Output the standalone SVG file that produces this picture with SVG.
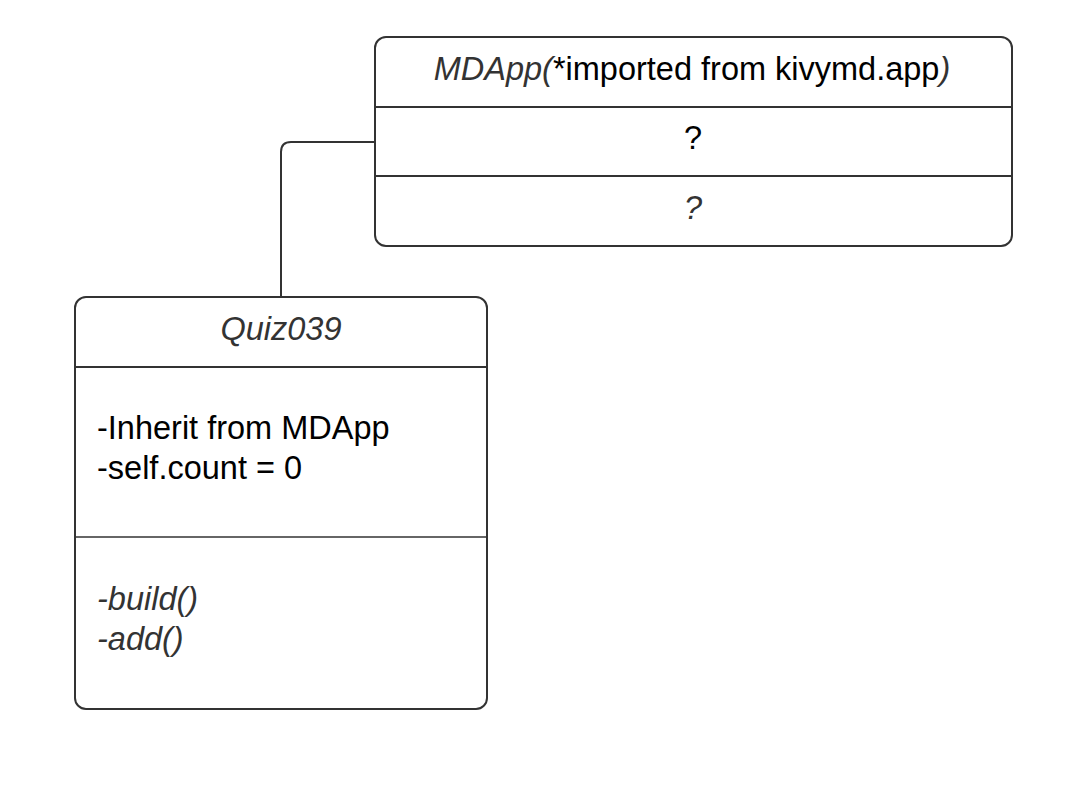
<svg xmlns="http://www.w3.org/2000/svg" width="1080" height="788" viewBox="0 0 1080 788">
<style>
.box{fill:#fff;stroke:#333;stroke-width:2}
.div{stroke:#333;stroke-width:2}
.div1{stroke:#333;stroke-width:1.3}
.t{font-family:"Liberation Sans",Arial,sans-serif;font-size:32.5px;fill:#000}
.i{font-style:italic;fill:#333}
.c{text-anchor:middle}
.conn{fill:none;stroke:#333;stroke-width:2}
</style>
<rect width="1080" height="788" fill="#fff"/>
<g id="connectors">
<path class="conn" d="M375 142 H291 Q281 142 281 152 V297"/>
</g>
<g id="mdapp">
<rect class="box" x="375" y="37" width="637" height="209" rx="11"/>
<line class="div" x1="375" y1="107" x2="1012" y2="107"/>
<line class="div" x1="375" y1="176" x2="1012" y2="176"/>
<text class="t c" x="692" y="80"><tspan class="i">MDApp(</tspan>*imported from kivymd.app<tspan class="i">)</tspan></text>
<text class="t c" x="693" y="149">?</text>
<text class="t c i" x="693" y="219">?</text>
</g>
<g id="quiz039">
<rect class="box" x="75" y="297" width="412" height="412" rx="11"/>
<line class="div" x1="75" y1="367" x2="487" y2="367"/>
<line class="div1" x1="75" y1="537" x2="487" y2="537"/>
<text class="t c i" x="281" y="340">Quiz039</text>
<text class="t" x="97" y="439">-Inherit from MDApp</text>
<text class="t" x="97" y="479">-self.count = 0</text>
<text class="t i" x="97" y="610">-build()</text>
<text class="t i" x="97" y="650">-add()</text>
</g>
</svg>
